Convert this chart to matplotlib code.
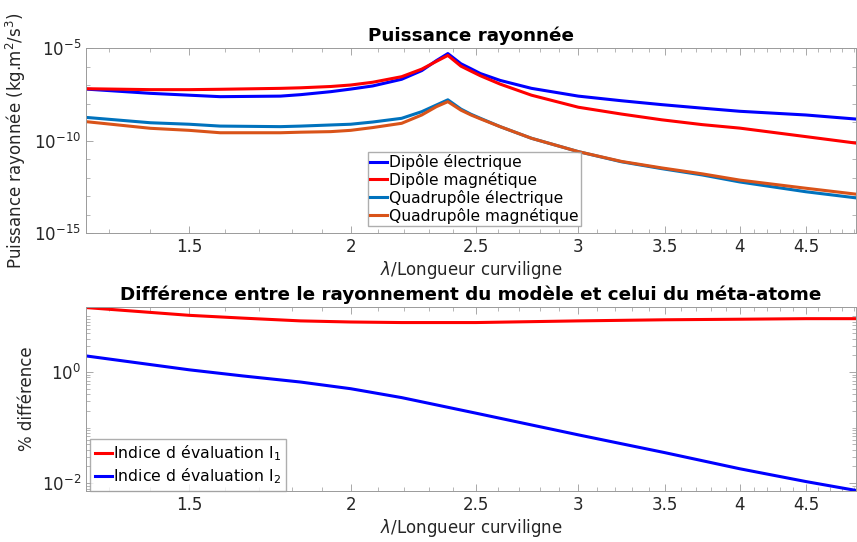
import numpy as np
import matplotlib.pyplot as plt
from matplotlib.ticker import FixedLocator, LogLocator, NullFormatter, FixedFormatter

# x = lambda / longueur curviligne
x_top = [1.248, 1.40, 1.50, 1.585, 1.765, 1.83, 1.93, 2.0, 2.08, 2.19, 2.27, 2.33, 2.378,
         2.434, 2.478, 2.52, 2.61, 2.76, 3.0, 3.24, 3.48, 3.74, 4.0, 4.5, 4.92]

# log10 of radiated power
dip_elec = [-7.22, -7.45, -7.55, -7.63, -7.6, -7.52, -7.36, -7.22, -7.05, -6.69, -6.22, -5.68, -5.3,
            -5.85, -6.12, -6.38, -6.75, -7.18, -7.6, -7.85, -8.06, -8.25, -8.42, -8.62, -8.84]
dip_mag = [-7.2, -7.25, -7.25, -7.23, -7.18, -7.15, -7.08, -7.0, -6.85, -6.55, -6.14, -5.72, -5.4,
           -5.98, -6.25, -6.5, -6.95, -7.55, -8.2, -8.57, -8.88, -9.14, -9.33, -9.79, -10.14]
quad_elec = [-8.75, -9.04, -9.12, -9.22, -9.25, -9.22, -9.16, -9.12, -9.0, -8.8, -8.44, -8.08, -7.8,
             -8.3, -8.58, -8.8, -9.25, -9.88, -10.6, -11.15, -11.52, -11.86, -12.24, -12.77, -13.1]
quad_mag = [-8.98, -9.34, -9.45, -9.58, -9.58, -9.55, -9.52, -9.45, -9.3, -9.07, -8.62, -8.17, -7.9,
            -8.36, -8.62, -8.83, -9.25, -9.88, -10.6, -11.13, -11.48, -11.8, -12.14, -12.58, -12.9]

x_bot = [1.248, 1.5, 1.65, 1.829, 2.0, 2.19, 2.5, 3.0, 3.5, 4.0, 4.5, 4.92]
indice1 = [1.16, 1.02, 0.97, 0.92, 0.9, 0.89, 0.89, 0.92, 0.94, 0.95, 0.96, 0.96]
indice2 = [0.29, 0.04, -0.07, -0.18, -0.30, -0.46, -0.74, -1.13, -1.45, -1.74, -1.97, -2.13]

xticks = [1.5, 2, 2.5, 3, 3.5, 4, 4.5]
xticklabels = ["1.5", "2", "2.5", "3", "3.5", "4", "4.5"]

spine_col = "#9a9a9a"
txt_col = "#262626"

fig = plt.figure(figsize=(8.57, 5.42), dpi=100)
ax1 = fig.add_axes([0.1003, 0.5701, 0.8985, 0.3413])
ax2 = fig.add_axes([0.1003, 0.0941, 0.8985, 0.3395])


def style(ax):
    ax.set_xscale("log")
    ax.set_yscale("log")
    ax.set_xlim(1.248, 4.92)
    ax.xaxis.set_major_locator(FixedLocator(xticks))
    ax.xaxis.set_major_formatter(FixedFormatter(xticklabels))
    ax.xaxis.set_minor_locator(FixedLocator(np.arange(1.3, 4.95, 0.1)))
    ax.xaxis.set_minor_formatter(NullFormatter())
    ax.tick_params(which="both", direction="in", top=True, right=True,
                   colors=spine_col, labelcolor=txt_col, labelsize=12)
    ax.tick_params(which="major", length=5, width=0.6)
    ax.tick_params(which="minor", length=3, width=0.5)
    for s in ax.spines.values():
        s.set_color(spine_col)
        s.set_linewidth(0.7)
    ax.set_xlabel(r"$\lambda$/Longueur curviligne", fontsize=12, color=txt_col, labelpad=2)


style(ax1)
ax1.plot(x_top, 10.0 ** np.array(dip_elec), color="#0000ff", lw=2.2, label="Dipôle électrique")
ax1.plot(x_top, 10.0 ** np.array(dip_mag), color="#ff0000", lw=2.2, label="Dipôle magnétique")
ax1.plot(x_top, 10.0 ** np.array(quad_elec), color="#0072bd", lw=2.2, label="Quadrupôle électrique")
ax1.plot(x_top, 10.0 ** np.array(quad_mag), color="#d95319", lw=2.2, label="Quadrupôle magnétique")
ax1.set_ylim(1e-15, 1e-5)
ax1.yaxis.set_major_locator(FixedLocator([1e-15, 1e-10, 1e-5]))
ax1.yaxis.set_minor_locator(FixedLocator([10.0 ** k for k in range(-15, -4)]))
ax1.yaxis.set_minor_formatter(NullFormatter())
ax1.set_ylabel("Puissance rayonnée (kg.m$^2$/s$^3$)", fontsize=12, color=txt_col)
ax1.set_title("Puissance rayonnée", fontsize=13.2, fontweight="bold", pad=5)
ax1.legend(loc="upper left", bbox_to_anchor=(0.366, 0.44), fontsize=11.2,
           fancybox=False, edgecolor=spine_col, handlelength=1.1, handletextpad=0.1,
           borderpad=0.15, labelspacing=0.12, borderaxespad=0)

style(ax2)
ax2.plot(x_bot, 10.0 ** np.array(indice1), color="#ff0000", lw=2.2, label="Indice d évaluation I$_1$")
ax2.plot(x_bot, 10.0 ** np.array(indice2), color="#0000ff", lw=2.2, label="Indice d évaluation I$_2$")
ax2.set_ylim(10 ** -2.14, 10 ** 1.17)
ax2.yaxis.set_major_locator(FixedLocator([1e-2, 1e0]))
ax2.yaxis.set_minor_locator(LogLocator(base=10, subs=np.arange(1, 10), numticks=20))
ax2.yaxis.set_minor_formatter(NullFormatter())
ax2.set_ylabel("% différence", fontsize=12, color=txt_col)
ax2.set_title("Différence entre le rayonnement du modèle et celui du méta-atome",
              fontsize=13.2, fontweight="bold", pad=5)
ax2.legend(loc="lower left", bbox_to_anchor=(0.005, 0.0), fontsize=11.3,
           fancybox=False, edgecolor=spine_col, handlelength=1.1, handletextpad=0.1,
           borderpad=0.3, labelspacing=0.2, borderaxespad=0)

fig.savefig("out.png", dpi=100)
